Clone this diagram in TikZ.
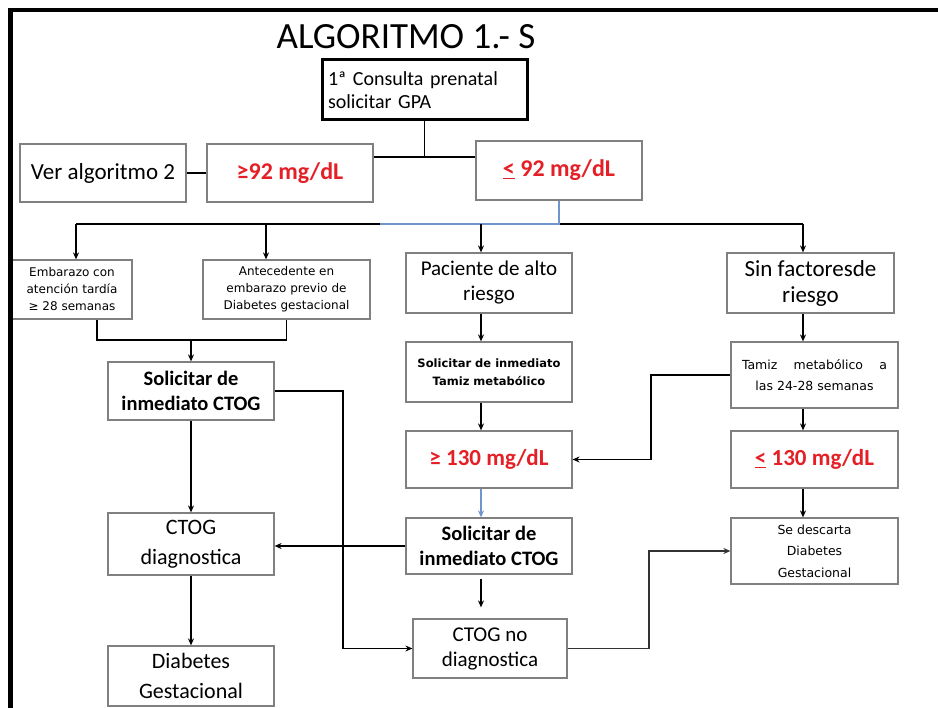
\documentclass[tikz,border=0pt]{standalone}
\usepackage{fontspec}
\setmainfont{Carlito}
\newfontfamily\smallf{DejaVu Sans}
\usetikzlibrary{arrows.meta,calc}
\definecolor{redtxt}{RGB}{228,32,38}
\definecolor{boxgray}{RGB}{128,128,128}
\definecolor{lblue}{RGB}{110,150,205}
\begin{document}
\begin{tikzpicture}[x=1pt,y=-1pt,
  box/.style={draw=boxgray,line width=1.2pt,inner sep=0pt,align=center,fill=white},
  arr/.style={-{Stealth[length=7pt,width=6pt]},line width=1.3pt},
  ln/.style={line width=1.3pt},
  redlab/.style={text=redtxt,font=\fontsize{24}{28}\selectfont\bfseries},
  bigtxt/.style={font=\fontsize{21}{25}\selectfont},
  boldtxt/.style={font=\fontsize{20.5}{25}\selectfont\bfseries},
  spread/.style={font=\fontsize{22}{30}\selectfont},
  tiny/.style={font=\smallf\fontsize{12}{17}\selectfont},
  tinyw/.style={font=\smallf\fontsize{12.5}{21.5}\selectfont}
]
\useasboundingbox (0,0) rectangle (938,708);

\node[font=\fontsize{37}{40}\selectfont, anchor=base] (title) at (406,49) {ALGORITMO 1.- S};

\node[draw=black,line width=3pt,inner sep=0pt,minimum width=205pt,minimum height=60pt,
      text width=193pt,align=left,font=\fontsize{20}{23}\selectfont] (consulta) at (424.5,90)
      {1ª Consulta prenatal\\solicitar GPA};

\node[box,minimum width=166pt,minimum height=58pt,font=\fontsize{23}{27}\selectfont] (ver) at (103,173) {Ver algoritmo 2};
\node[box,redlab,minimum width=166pt,minimum height=58pt] (ge92) at (290,173) {≥92 mg/dL};
\node[box,redlab,minimum width=166pt,minimum height=59pt] (le92) at (559,170.5) {\underline{<} 92 mg/dL};

\node[box,tiny,minimum width=120pt,minimum height=59pt] (emb) at (72,289.5) {Embarazo con\\atención tardía\\≥ 28 semanas};
\node[box,tiny,minimum width=167pt,minimum height=59pt] (ant) at (286.5,289.5) {Antecedente en\\embarazo previo de\\Diabetes gestacional};
\node[box,bigtxt,minimum width=166pt,minimum height=60pt] (pac) at (489,283) {Paciente de alto\\riesgo};
\node[box,font=\fontsize{23}{26}\selectfont,minimum width=167pt,minimum height=60pt] (sin) at (810.5,283) {Sin factoresde\\riesgo};

\node[box,boldtxt,minimum width=166pt,minimum height=58pt] (solL) at (191,391) {Solicitar de\\inmediato CTOG};
\node[box,font=\smallf\bfseries\fontsize{11.5}{18}\selectfont,minimum width=166pt,minimum height=60pt] (tamM) at (489,372) {Solicitar de inmediato\\Tamiz metabólico};
\node[box,tinyw,minimum width=167pt,minimum height=66pt] (tamR) at (814.5,375)
  {\hbox to 145pt{Tamiz\hfill metabólico\hfill a}\\las 24-28 semanas};

\node[box,redlab,font=\fontsize{23}{27}\selectfont\bfseries,minimum width=166pt,minimum height=57pt] (ge130) at (489,459.5) {≥ 130 mg/dL};
\node[box,redlab,font=\fontsize{23}{27}\selectfont\bfseries,minimum width=167pt,minimum height=57pt] (le130) at (814.5,459.5) {\underline{<} 130 mg/dL};

\node[box,spread,minimum width=166pt,minimum height=62pt] (ctogd) at (191,544) {CTOG\\diagnostica};
\node[box,boldtxt,minimum width=166pt,minimum height=56pt] (solM) at (489,546) {Solicitar de\\inmediato CTOG};
\node[box,tinyw,minimum width=167pt,minimum height=66pt] (desc) at (814.5,551) {Se descarta\\Diabetes\\Gestacional};

\node[box,spread,minimum width=166pt,minimum height=60pt] (diab) at (191,676) {Diabetes\\Gestacional};
\node[box,bigtxt,minimum width=154pt,minimum height=59pt] (ctogno) at (490,648.5) {CTOG no\\diagnostica};

% top connectors
\coordinate (j1) at (424.5,157);
\draw[ln] (consulta.south) -- (j1);
\draw[ln] (ge92.east |- j1) -- (le92.west |- j1);
\draw[ln] (ver.east) -- (ge92.west);

% bus
\coordinate (busL) at (76,224);
\coordinate (busR) at (803,224);
\coordinate (bus) at (559,224);
\coordinate (busB) at (380,224);
\coordinate (d2) at (266,224);
\coordinate (d3) at (481,224);
\draw[ln] (busL) -- (busR);
\draw[ln,lblue] (le92.south) -- (bus) -- (busB);
\draw[arr] (busL) -- (busL |- emb.north);
\draw[arr] (d2) -- (d2 |- ant.north);
\draw[arr] (d3) -- (d3 |- pac.north);
\draw[arr] (busR) -- (busR |- sin.north);

% left column
\coordinate (m1) at (97,340);
\coordinate (m2) at (286.5,340);
\coordinate (m0) at (191,340);
\draw[ln] (m1 |- emb.south) -- (m1) -- (m2) -- (ant.south);
\draw[arr] (m0) -- (solL.north);
\draw[arr] (solL.south) -- (ctogd.north);
\draw[arr] (ctogd.south) -- (diab.north);
\coordinate (v1) at (343,0);
\draw[arr] (solL.east) -- (solL.east -| v1) -- (v1 |- ctogno.west) -- (ctogno.west);

% middle column
\coordinate (mx) at (481,0);
\draw[arr] (mx |- pac.south) -- (mx |- tamM.north);
\draw[arr] (mx |- tamM.south) -- (mx |- ge130.north);
\draw[arr,lblue,line width=1.1pt] (mx |- ge130.south) -- (mx |- solM.north);
\draw[arr,shorten <=4pt,shorten >=11pt] (mx |- solM.south) -- (mx |- ctogno.north);
\draw[arr] (solM.west) -- (solM.west -| ctogd.east);
\coordinate (v2) at (649,0);
\draw[arr,line width=1.7pt,black!80] (ctogno.east) -- (ctogno.east -| v2) -- (v2 |- desc.west) -- (desc.west);

% right column
\coordinate (v3) at (651,0);
\draw[arr] (tamR.west) -- (tamR.west -| v3) -- (v3 |- ge130.east) -- (ge130.east);
\coordinate (rx) at (803,0);
\draw[arr] (rx |- sin.south) -- (rx |- tamR.north);
\draw[arr] (rx |- tamR.south) -- (rx |- le130.north);
\draw[arr] (rx |- le130.south) -- (rx |- desc.north);

% frame
\draw[line width=4.5pt] (938,10) -- (10.5,10) -- (10.5,708);
\end{tikzpicture}
\end{document}
